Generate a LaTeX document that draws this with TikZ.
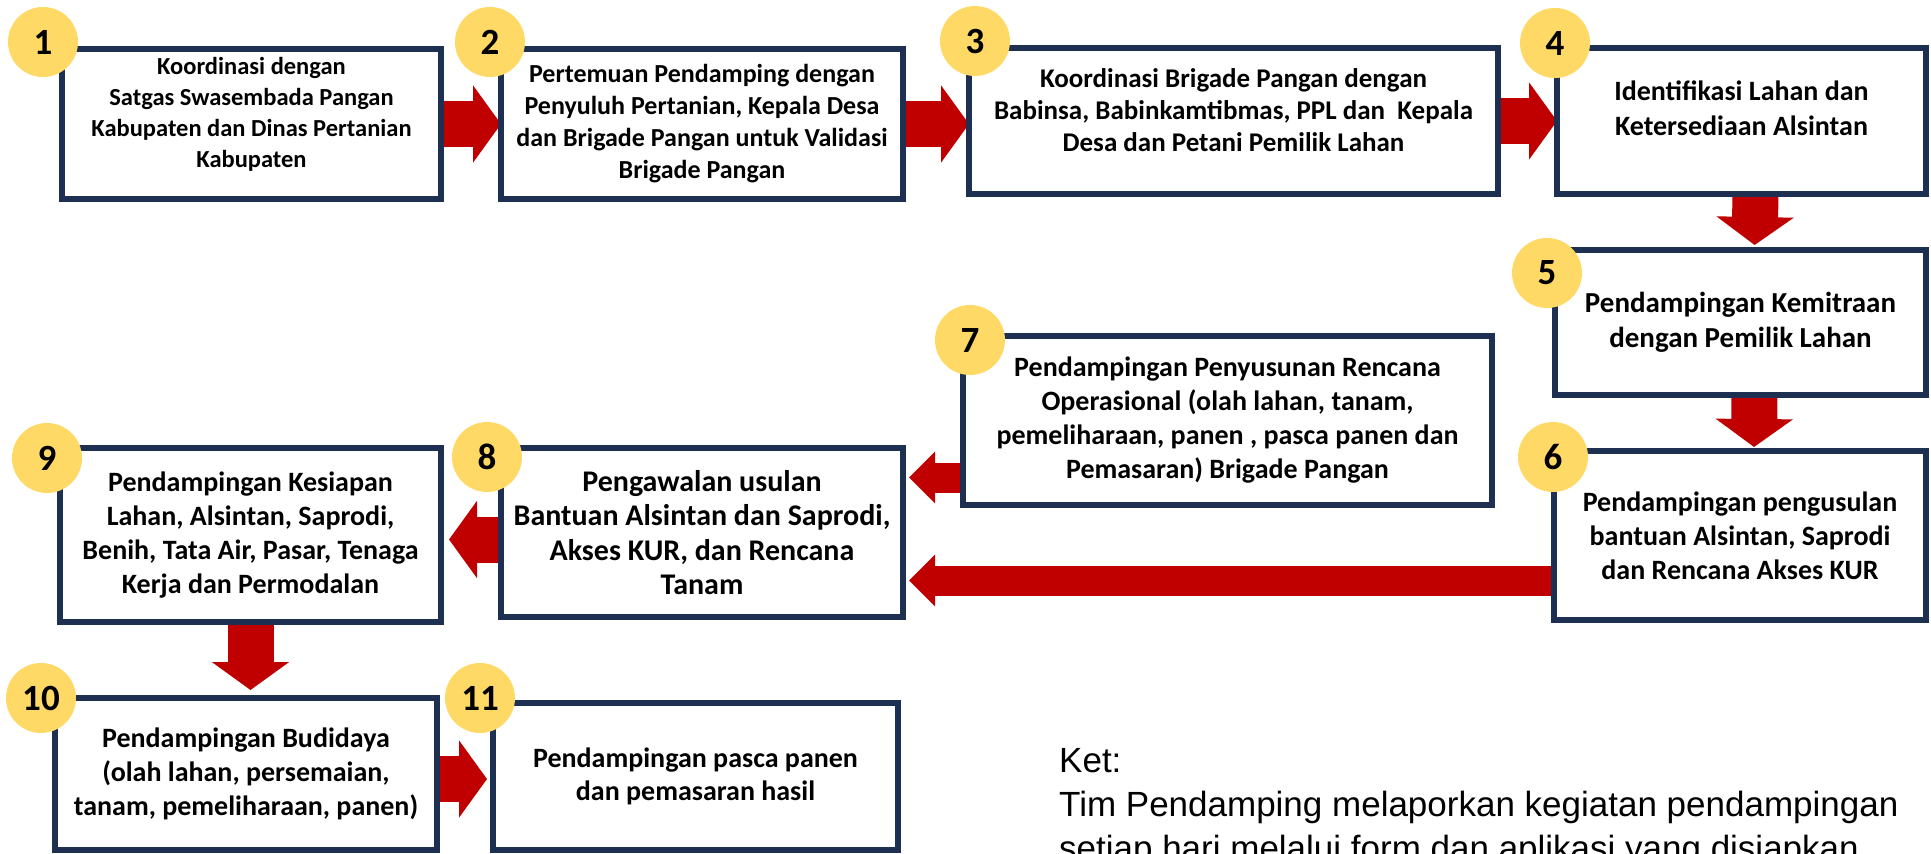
\documentclass[tikz,border=0pt]{standalone}
\usepackage{fontspec}
\setmainfont{Carlito}
\newfontfamily\ketfont{Liberation Sans}
\usepackage{tikz}
\usetikzlibrary{arrows.meta, calc, backgrounds}
\definecolor{boxnavy}{RGB}{30,48,82}
\definecolor{numgold}{RGB}{255,217,102}
\definecolor{arrowred}{RGB}{192,0,0}
\newcommand{\boxfont}[2]{\fontsize{#1}{#2}\selectfont\bfseries}

\begin{document}
\begin{tikzpicture}[x=1pt, y=-1pt,
        box/.style={draw=boxnavy, line width=6pt, fill=white, inner sep=0pt, outer sep=0pt,
            align=center, font=\boxfont{28}{34}},
        num/.style={circle, fill=numgold, minimum size=70pt, inner sep=0pt,
            font=\fontsize{37}{37}\selectfont\bfseries},
        bigarrow/.style={arrowred, line width=46pt, -{Triangle[width=76pt, length=28pt]}},
        smallarrow/.style={arrowred, line width=30pt, -{Triangle[width=50pt, length=26pt]}}]
        \useasboundingbox (0,0) rectangle (1931,854);

        % boxes
        \node[box, minimum width=379pt, minimum height=150pt, font=\boxfont{24.5}{31}] (b1) at (251.5,124)
            {Koordinasi dengan\\Satgas Swasembada Pangan\\Kabupaten dan Dinas Pertanian\\Kabupaten\\[-8pt]\mbox{}};
        \node[box, minimum width=402pt, minimum height=150pt, font=\boxfont{26}{32}] (b2) at (702,124)
            {Pertemuan Pendamping dengan\\Penyuluh Pertanian, Kepala Desa\\dan Brigade Pangan untuk Validasi\\Brigade Pangan};
        \node[box, minimum width=529pt, minimum height=146pt, font=\boxfont{27}{32}] (b3) at (1233.5,121)
            {Koordinasi Brigade Pangan dengan\\Babinsa, Babinkamtibmas, PPL dan\ \ Kepala\\Desa dan Petani Pemilik Lahan\\[-10pt]\mbox{}};
        \node[box, minimum width=369pt, minimum height=146pt, font=\boxfont{28}{35}] (b4) at (1741.5,121)
            {Identifikasi Lahan dan\\Ketersediaan Alsintan\\[-10pt]\mbox{}};
        \node[box, minimum width=371pt, minimum height=145pt, font=\boxfont{29}{35}] (b5) at (1740.5,322.5)
            {Pendampingan Kemitraan\\dengan Pemilik Lahan};
        \node[box, minimum width=372pt, minimum height=169pt] (b6) at (1740,535.5)
            {Pendampingan pengusulan\\bantuan Alsintan, Saprodi\\dan Rencana Akses KUR};
        \node[box, minimum width=529pt, minimum height=169pt] (b7) at (1227.5,420.5)
            {Pendampingan Penyusunan Rencana\\Operasional (olah lahan, tanam,\\pemeliharaan, panen , pasca panen dan\\Pemasaran) Brigade Pangan};
        \node[box, minimum width=402pt, minimum height=169pt, font=\boxfont{30}{34.5}] (b8) at (702,532.5)
            {Pengawalan usulan\\Bantuan Alsintan dan Saprodi,\\Akses KUR, dan Rencana\\Tanam};
        \node[box, minimum width=381pt, minimum height=174pt] (b9) at (250.5,535)
            {Pendampingan Kesiapan\\Lahan, Alsintan, Saprodi,\\Benih, Tata Air, Pasar, Tenaga\\Kerja dan Permodalan};
        \node[box, minimum width=382pt, minimum height=152pt] (b10) at (246,774)
            {Pendampingan Budidaya\\(olah lahan, persemaian,\\tanam, pemeliharaan, panen)};
        \node[box, minimum width=405pt, minimum height=147pt, font=\boxfont{28}{33}] (b11) at (695.5,776.5)
            {Pendampingan pasca panen\\dan pemasaran hasil};

        % numbers
        \node[num] (n1) at (43,42) {1};
        \node[num] (n2) at (490,42) {2};
        \node[num] (n3) at (975,41) {3};
        \node[num] (n4) at (1555,43) {4};
        \node[num] (n5) at (1547,273) {5};
        \node[num] (n6) at (1553,457) {6};
        \node[num] (n7) at (970,340) {7};
        \node[num] (n8) at (487,457) {8};
        \node[num] (n9) at (47,458) {9};
        \node[num] (n10) at (41,698) {10};
        \node[num] (n11) at (480,698) {11};

        % arrows
        \begin{scope}[on background layer]
            \coordinate (s7) at ($(b7.west)+(0,57)$);
            \coordinate (s6) at ($(b6.west)+(0,45)$);
            \coordinate (s8) at ($(b8.west)+(0,7)$);
            \coordinate (s10) at ($(b10.east)+(0,5)$);
            \draw[bigarrow] (b1.east) -- (b2.west);
            \draw[bigarrow] (b2.east) -- (b2.east -| b3.west);
            \draw[bigarrow] (b3.east) -- (b4.west);
            \draw[bigarrow, shorten >=5pt] ($(b4.south)+(14,0)$) -- ($(b5.north)+(14,0)$);
            \draw[bigarrow, shorten >=4pt] ($(b5.south)+(14,0)$) -- ($(b6.north)+(14,0)$);
            \draw[smallarrow, shorten >=6pt] (s7) -- (s7 -| b8.east);
            \draw[smallarrow, shorten >=6pt] (s6) -- (s6 -| b8.east);
            \draw[bigarrow, shorten >=8pt] (s8) -- (s8 -| b9.east);
            \draw[bigarrow, shorten >=8pt] (b9.south) -- (b9.south |- b10.north);
            \draw[bigarrow, shorten >=6pt] (s10) -- (s10 -| b11.west);
        \end{scope}

        % note
        \node[anchor=north west, inner sep=0pt, align=left,
            font=\ketfont\fontsize{35}{44}\selectfont] (ket) at (1059,748)
            {Ket:\\Tim Pendamping melaporkan kegiatan pendampingan\\setiap hari melalui form dan aplikasi yang disiapkan};
\end{tikzpicture}
\end{document}
